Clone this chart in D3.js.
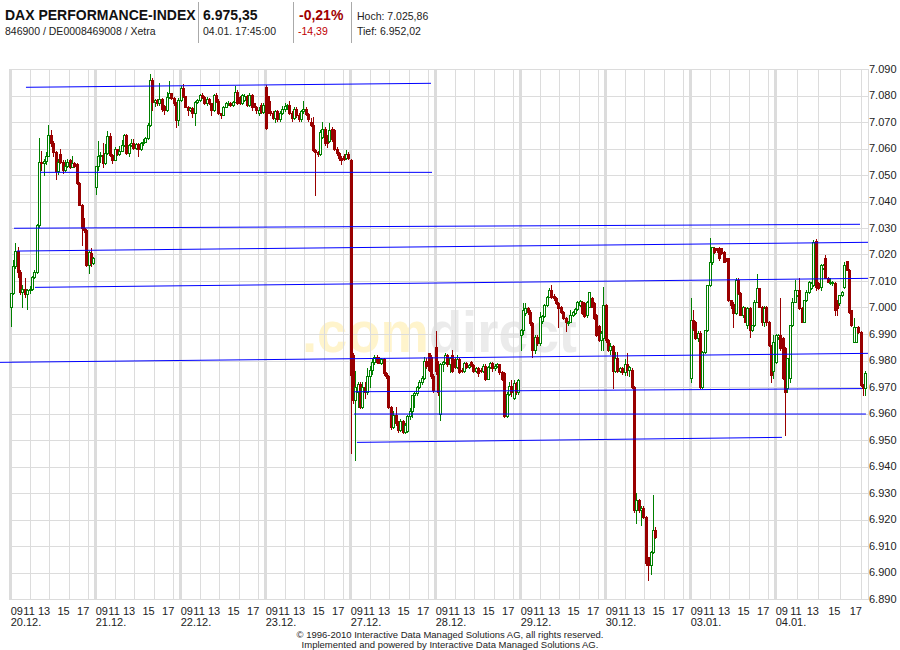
<!DOCTYPE html>
<html><head><meta charset="utf-8">
<script src="https://cdn.jsdelivr.net/npm/d3@7"></script>
<style>
body{margin:0;background:#fff}
svg{display:block}
text{font-family:"Liberation Sans",Arial,sans-serif}
</style>
</head><body>
<svg id="chart" width="900" height="650"></svg>
<script>
// ---------------- DATA ----------------
const titleText = "DAX PERFORMANCE-INDEX";
const isinText = "846900 / DE0008469008 / Xetra";
const lastPrice = "6.975,35";
const lastTime = "04.01. 17:45:00";
const changePct = "-0,21%";
const changeAbs = "-14,39";
const highText = "Hoch: 7.025,86";
const lowText = "Tief: 6.952,02";
const copyright1 = "\u00a9 1996-2010 Interactive Data Managed Solutions AG, all rights reserved.";
const copyright2 = "Implemented and powered by Interactive Data Managed Solutions AG.";

const dayLabels = ["20.12.","21.12.","22.12.","23.12.","27.12.","28.12.","29.12.","30.12.","03.01.","04.01."];
const hourTicks = [9, 11, 13, 15, 17];
const yTickValues = [6890,6900,6910,6920,6930,6940,6950,6960,6970,6980,6990,7000,7010,7020,7030,7040,7050,7060,7070,7080,7090];

// 15-minute candles per day: [open, high, low, close]
const c20 = [
[7000,7005.5,6993,7005.5],[7005.5,7018,7005,7015.5],[7015.5,7024.5,7015,7021.5],[7021.5,7023,7011.5,7013.5],
[7013.5,7014,7005,7006],[7006,7008.5,7000,7007],[7007,7011,7004,7005],[7005,7007,6999.5,7006.5],
[7006.5,7008,7005.5,7007],[7007,7012,7006.5,7011.5],[7011.5,7014,7011,7013.5],[7013.5,7031.5,7013,7031],
[7031,7064,7030.5,7055],[7055,7059,7052,7054.5],[7054.5,7056,7050,7055.2],[7055.2,7058.5,7054,7057.3],
[7057.3,7069,7057,7065],[7065,7067,7061,7062],[7062,7063,7057,7058.5],[7058.5,7059,7048.5,7051.5],
[7051.5,7056,7050.5,7055],[7057.8,7059.7,7054.5,7055],[7055,7055.5,7050.6,7052],[7052,7055.7,7051.5,7053.4],
[7053.4,7056,7053,7055],[7055.7,7056,7052.5,7053.2],[7053.2,7057.2,7053,7054.5],[7054.5,7055,7053,7053.5],
[7054,7054.5,7046.5,7047],[7047,7047.5,7038.5,7038.7],[7038.7,7039,7023.6,7030],[7030,7033.6,7028.5,7029.2],
[7029.2,7029.5,7015.5,7016],[7016,7021.5,7013,7021],[7020.7,7022.5,7015.5,7016.8],[7016.8,7019,7016.5,7018.6]
];
const c21 = [
[7045.3,7053.5,7043,7053.4],[7053.4,7062.8,7052,7057],[7057,7058.5,7055,7057.6],[7057.6,7062,7053,7054.4],
[7054.4,7061.7,7054,7058.4],[7058.4,7066.7,7058,7064.7],[7064.7,7066,7057,7057.5],[7057.5,7058,7054.4,7055.7],
[7055.7,7060.5,7055.5,7059.7],[7059.7,7060,7057.5,7058],[7058,7061,7057.5,7059.2],[7059.2,7063.2,7059,7061.3],
[7061.3,7065.5,7061,7065],[7065,7065.5,7058,7058.2],[7058.2,7061.8,7057.2,7061.3],[7061.3,7063.5,7061,7062.2],
[7062.2,7063.5,7060,7060.1],[7060.1,7062,7059.8,7061.7],[7061.7,7062,7057.2,7059.7],[7059.7,7062.5,7059.5,7062],
[7062,7063.5,7061.5,7062.6],[7062.6,7064.5,7062.5,7063.8],[7063.8,7069.5,7063.5,7068.9],[7068.9,7088,7068.5,7085.8],
[7086,7086.5,7074.5,7077.7],[7077.7,7078.5,7076,7078.3],[7078.3,7078.5,7076.5,7077],[7077,7084.6,7076.5,7078.5],
[7078.5,7079,7074,7074.8],[7076,7076.5,7073,7074.5],[7074.5,7081.4,7074,7079.6],[7079.6,7085.6,7079,7080.8],
[7080.8,7081,7078.5,7079],[7079,7079.5,7076.5,7077],[7077,7077.5,7068,7070.8],[7070.8,7079,7068.9,7078.3]
];
const c22 = [
[7078.3,7083.5,7078,7082.7],[7082.7,7084.3,7079.5,7079.8],[7079.8,7080,7075.5,7075.8],[7075.8,7076,7072.6,7074.6],
[7074.6,7075.5,7074,7075.2],[7075.2,7075.5,7072,7073.3],[7073.3,7077.8,7068.9,7077.7],[7077.7,7078.5,7077,7078.3],
[7078.3,7080.5,7078,7080.2],[7080.2,7081,7079,7079.5],[7079.5,7080,7076.8,7077],[7077,7079.5,7076.5,7078.8],
[7078.8,7079,7076.8,7077],[7077,7077.3,7072.5,7074.5],[7074.5,7080.5,7074,7080.2],[7080.2,7081,7077.5,7078],
[7078,7078.5,7073,7073.3],[7073.3,7073.5,7071.5,7072.6],[7072.6,7076,7072.5,7075.8],[7075.8,7077.5,7075.5,7077],
[7077,7077.8,7076.5,7077.3],[7077.3,7077.5,7076,7076.5],[7076.5,7078,7076,7077.7],[7077.7,7083.6,7077.5,7081.5],
[7081.5,7082,7076.8,7077],[7079.5,7080,7076.8,7077],[7077,7080.5,7076.8,7080.2],[7078.3,7080.5,7078,7080],
[7080,7080.3,7076,7076.4],[7076.4,7081,7076,7080.2],[7080.2,7080.5,7074.5,7075.8],[7077,7077.3,7075.5,7075.8],
[7075.8,7076,7073.5,7074.5],[7073.5,7075.5,7072.5,7074.5],[7076.5,7077,7073.5,7073.9],[7073.9,7077,7073.5,7076.4]
];
const c23 = [
[7083.2,7084,7067.5,7067.6],[7079.7,7080,7073.5,7074],[7074,7077.8,7072.5,7073.3],[7073.3,7074,7071,7071.5],
[7071.5,7074.5,7070,7074],[7074,7074.5,7070.5,7071],[7071,7074,7070.5,7073.5],[7073.5,7076,7073,7075],
[7075,7077,7074,7076],[7076,7076.8,7075,7076.5],[7076.5,7077.8,7073,7073.3],[7073.3,7074,7070.5,7071.5],
[7071.5,7075.5,7071,7075],[7075,7075.5,7072,7072.5],[7072.5,7073.5,7070.5,7071],[7071,7074.5,7070.5,7074],
[7074,7077.8,7073.5,7075],[7075,7075.5,7072.5,7073],[7073,7073.5,7070.5,7071],[7070,7071.5,7068.5,7069],
[7069,7072,7059,7059.5],[7059.5,7060,7042.5,7058.5],[7058.5,7059,7057,7058],[7058,7067,7057.5,7066.3],
[7064.4,7070,7064,7067.5],[7067.5,7068,7061.5,7062],[7064.4,7065,7060.5,7062],[7063,7069.6,7062.5,7067],
[7067.5,7068,7063,7063.5],[7067,7067.5,7059.5,7060],[7060,7060.5,7057.5,7058.3],[7058.3,7058.8,7055.5,7056.6],
[7056.6,7057,7054.3,7055.5],[7057.3,7058,7055.5,7056],[7056.5,7059.4,7056,7058],[7058,7058.5,7056,7056.5]
];
const c27 = [
[7055.7,7056,6945,6974.5],[6982,6983,6964,6965],[6965,6976,6942.5,6970],[6968.3,6972,6962.6,6971.3],
[6971.3,6972,6962,6962.6],[6962.6,6972,6962,6970],[6970,6972,6966,6968],[6968,6977,6967.5,6974],
[6974,6978,6970,6976.5],[6976.5,6980.5,6975,6979.6],[6979.6,6982,6978.5,6981.4],[6981.4,6982,6979,6979.6],
[6980.8,6981.2,6979,6979.2],[6979.2,6981,6978.5,6980.5],[6980.5,6981,6974.5,6975.2],[6975.2,6975.5,6973.5,6974],
[6974,6974.5,6962,6962.6],[6962.6,6963,6954,6955],[6955,6961,6954.5,6959.5],[6959.5,6962.5,6955.5,6956.5],
[6956.5,6957,6953,6953.8],[6953.8,6958,6953.5,6957],[6957,6957.5,6952.5,6953],[6953,6956.5,6952.5,6955.5],
[6953.5,6959.5,6953,6959],[6959,6962,6958,6961],[6961,6967,6958.5,6967],[6967,6968,6962.6,6967.6],
[6967.6,6970.5,6967,6970],[6970,6972.5,6969.5,6972],[6972,6974,6971,6973.5],[6973.5,6981.4,6973,6980],
[6980,6981,6977,6978],[6982.7,6983,6976,6976.4],[6981.4,6982,6973.5,6974],[6974,6975,6968,6969]
];
const c28 = [
[6985,6991,6975,6976],[6978,6980,6967,6968],[6960,6979,6957.5,6978.5],[6978.5,6980,6976,6979.5],
[6979.5,6982.7,6979,6982],[6982,6982.5,6978,6978.5],[6978.5,6981.5,6975.5,6981],[6982,6984,6975.5,6976],
[6980.5,6981,6977,6977.5],[6977.5,6982,6977,6980.5],[6980.5,6981,6975.2,6975.5],[6976.5,6977,6975.5,6976],
[6976,6979.5,6975.5,6979],[6979,6979.5,6977,6977.5],[6977.5,6978.5,6977,6978.2],[6979.5,6980,6978,6978.2],
[6978.2,6978.5,6975.5,6976],[6976,6977.5,6975.5,6977],[6977,6977.5,6974,6975.2],[6976.5,6977,6975.5,6976],
[6976,6978.5,6975.5,6978],[6978,6978.5,6972.5,6973.2],[6973.2,6978,6973,6977.5],[6977.5,6979.5,6977,6979],
[6979,6979.3,6976,6977],[6977,6978.5,6976.5,6978],[6978,6979,6977.5,6978.5],[6978.5,6978.8,6975,6975.5],
[6975.5,6976,6972.5,6973],[6975.2,6975.5,6958.8,6959.1],[6959.1,6968,6958.8,6967.5],[6967.5,6972,6967,6970.5],
[6970.5,6972.5,6966.5,6968],[6966,6972.5,6965.5,6971.5],[6971.5,6972,6967.5,6968],[6968,6973,6967.5,6972.6]
];
const c29 = [
[6989.6,6991.8,6984,6991.5],[6991.5,7001.6,6990,6999.1],[6998,7001.6,6997,6999.7],[6999.7,7000,6997.5,6998.4],
[6998.4,6999,6993.5,6994],[6994,6994.5,6981.5,6984],[6984,6989.5,6983,6989],[6989,6989.5,6986,6986.5],
[6986.5,6998.4,6986,6996.5],[6995,6997,6994,6996.8],[6996.8,7001.2,6996.5,7000.9],[7000.9,7004.5,7000.5,7004.1],
[7004.1,7007.2,7004,7006.6],[7006.6,7008.5,7003.5,7004.1],[7004.5,7005,7003,7003.5],[7003.5,7004,7001.2,7001.6],
[7001.6,7002,6992.8,6999.7],[7000.3,7000.5,6998,6998.4],[6998.4,6998.6,6995.5,6996],[6996,6996.5,6991,6994.6],
[6994,6995,6993.5,6994.6],[6994.6,6999.1,6994.5,6997.2],[6997,6998.5,6996.8,6998.2],[6997.8,6999.8,6997.5,6999.5],
[6999.5,7002.5,6999,7002.2],[7001,7002.8,7000.5,7002.5],[7002.2,7002.5,6997.5,6997.8],[7001.6,7002,6996.5,6996.8],
[6997,7002.5,6996.5,7002.2],[7000.3,7006,7000,7005.9],[7003.5,7004,7000,7000.3],[7001.6,7002,6995.5,6995.9],
[6997.2,6997.5,6989.3,6989.6],[6993,6993.5,6987.4,6987.7],[6987.7,6991,6984,6990.2],[6988.4,7007.9,6984,7000.9]
];
const c30 = [
[7000.9,7001.5,6987,6987.7],[6987.7,6988,6983.5,6984],[6984,6986.5,6982.5,6985.5],[6985.5,6986,6969.5,6976],
[6976,6983.3,6975.5,6980.8],[6980.8,6983.3,6975.5,6976],[6976,6977.5,6975.5,6977],[6977,6977.5,6975,6975.5],
[6975.5,6980.5,6974.5,6978.5],[6978.5,6982.7,6974.5,6976.5],[6976.5,6978,6974,6977.5],[6976.5,6977,6969.5,6970.1],
[6970.1,6970.5,6923,6923.6],[6923.6,6929.9,6918.6,6927.4],[6927.4,6927.8,6923,6923.6],[6923.6,6925,6918,6924.5],
[6924.5,6925,6920.5,6921],[6921,6921.5,6903,6903.5],[6905.9,6906,6897.2,6902.8],[6902.8,6908,6899.5,6907.8],
[6907.8,6929.3,6907.5,6916],[6916,6917,6913,6913.5]
];
const c03 = [
[6973.3,7003.5,6972,6995.3],[6995.3,6999,6991.5,6992.1],[6994.6,6995,6988,6988.4],[6988.4,6991,6987.5,6990.3],
[6990.3,6991,6969.5,6970.1],[6970.1,6983.5,6969.5,6983.3],[6983.3,6991.5,6983,6991.5],[6991.5,7008.5,6991,7008.5],
[7008.5,7026.1,7008,7017.3],[7017.3,7023,7016.5,7022.9],[7022.3,7022.9,7020.5,7021.1],[7022.3,7022.5,7021,7021.7],
[7021.7,7022.9,7018,7018.6],[7022.3,7022.5,7020,7020.4],[7021.1,7021.5,7017,7017.3],[7018.6,7018.6,7017.5,7017.7],
[7018.6,7018.8,7002.5,7002.8],[7002.8,7003,6999.7,7000.9],[7001.5,7002,6992.8,6997.8],[6997.8,7011,6997.5,7010.4],
[7010.4,7011,7005,7005.4],[7005.4,7006,6997,6997.2],[6997.2,7000.5,6996.5,7000],[6999.9,7000,6994.5,6994.7],
[6993.4,7000,6992.1,6999.9],[6999.9,7000,6989,6991.5],[6991.5,6993.5,6991,6993.4],[6993.4,7003,6993,7002.2],
[7002.2,7012.5,7002,7007.2],[7007.2,7007.5,7000,7000.3],[7000.3,7000.5,6993.5,6994.6],[6994.6,7000.5,6993,6999.9],
[7000.3,7000.5,6993.5,6994.6],[6994.6,6995,6985.5,6985.8],[6985.8,6986,6972,6974.5],[6976,6989.6,6973.5,6987.1]
];
const c04 = [
[6979.6,6990,6979,6989.6],[6989,6990,6988,6989.6],[6989.6,7003.5,6984,6984.6],[6988.4,6989,6973,6973.3],
[6984.6,6985,6952,6968.2],[6969.5,6980.8,6968,6980.8],[6973.3,6993.4,6972,6993.4],[6993.4,7003.5,6993,7002.2],
[7002.2,7010.4,7002,7006.6],[7004.7,7006.6,7004.5,7006.6],[7006.6,7011,6999.5,6999.7],[6999.7,7000,6994.5,6994.7],
[6994.7,7003,6994.5,7002.8],[7002.8,7006.5,7002.5,7006],[7006,7010,7005.5,7009.8],[7007.2,7009.5,7007,7009.1],
[7008.5,7025.5,7008,7024.8],[7025.1,7025.9,7006.5,7007.9],[7009.1,7009.5,7007,7007.2],[7007.9,7016.5,7006.5,7016],
[7014.8,7016.5,7014.5,7016],[7018.6,7019.8,7011,7011],[7011,7011.5,7009.5,7009.8],[7009.1,7011,7009,7009.8],
[7009.1,7010,7008.5,7009.8],[7009.1,7009.5,6997.2,6999],[7002.8,7003,6997.2,6999.7],[7001.6,7004.8,7001,7004.7],
[7004.7,7006.2,7004.5,7006],[7007.9,7017.3,7007.5,7016],[7017.5,7017.5,7014,7014.1],[7014.1,7014.5,6998,6998.4],
[6999,6999.2,6993,6993.4],[6987.1,6995.9,6986.8,6992.8],[6987.1,6992.8,6987,6992.8],[6992.8,6993,6990.5,6990.9],
[6990.9,6991,6970.5,6970.8],[6970.8,6971,6967,6969.5],[6969.5,6976,6967,6975.35]
];
const dayCandles = [c20, c21, c22, c23, c27, c28, c29, c30, c03, c04];

// trend lines: [start day position, start value, end day position, end value]
const trendLines = [
  [0.188, 7083.1, 4.953, 7084.6],
  [0.353, 7051.0, 4.965, 7051.0],
  [0.047, 7029.9, 9.914, 7031.4],
  [0.082, 7021.3, 10.0, 7024.6],
  [0.294, 7007.6, 10.0, 7011.0],
  [-0.118, 6979.3, 10.0, 6982.7],
  [4.047, 6968.2, 9.935, 6969.4],
  [4.047, 6959.8, 9.978, 6959.8],
  [4.082, 6949.1, 9.075, 6951.0]
];

// ---------------- CHART ----------------
const svg = d3.select("#chart");
const gridColor = "#dcdcdc";
const upColor = "#008000", downColor = "#990000", lineBlue = "#0000ff";

const y = d3.scaleLinear().domain([6890, 7090]).range([599, 69]);
const xDay = d3.scaleLinear().domain(d3.range(0, 11)).range([10,95,180,265,350,435,520,605,690,775,868]);
const slot = d3.scaleLinear().domain([0, 36]).range([0, 85]);
const hourScale = d => d3.scaleLinear().domain([9, 17]).range([xDay(d), xDay(d) + (d === 9 ? 86 : 78.3)]);
const deLocale = d3.formatLocale({decimal: ",", thousands: ".", grouping: [3], currency: ["", "€"]});
const fmtY = deLocale.format(",.0f");
const plotTop = y(7090), plotBottom = y(6890), plotLeft = xDay(0), plotRight = xDay(10);

// watermark
const wm = svg.append("text").attr("x", 302).attr("y", 352)
  .attr("font-size", 57).attr("font-weight", "bold")
  .attr("textLength", 275).attr("lengthAdjust", "spacingAndGlyphs");
wm.append("tspan").attr("fill", "#fff4cc").text(".com");
wm.append("tspan").attr("fill", "#ebebeb").text("direct");

// horizontal grid
svg.append("g").selectAll("line").data(yTickValues).join("line")
  .attr("x1", plotLeft).attr("x2", plotRight)
  .attr("y1", d => Math.round(y(d)) + 0.5).attr("y2", d => Math.round(y(d)) + 0.5)
  .attr("stroke", gridColor);

// hour grid lines
const hourG = svg.append("g");
dayLabels.forEach((lab, d) => {
  const hs = hourScale(d);
  hourTicks.filter(h => h > 9).forEach(h => {
    const xx = Math.round(hs(h)) + 0.5;
    hourG.append("line").attr("x1", xx).attr("x2", xx).attr("y1", plotTop).attr("y2", plotBottom + 1).attr("stroke", gridColor);
  });
});
// day separators
svg.append("g").selectAll("rect").data(d3.range(0, 10)).join("rect")
  .attr("x", d => Math.round(xDay(d)) - 1).attr("width", 3)
  .attr("y", plotTop).attr("height", plotBottom - plotTop + 1).attr("fill", gridColor);
svg.append("line").attr("x1", Math.round(plotRight) + 0.5).attr("x2", Math.round(plotRight) + 0.5)
  .attr("y1", plotTop).attr("y2", plotBottom + 1).attr("stroke", gridColor);

// candles
const cg = svg.append("g");
dayCandles.forEach((arr, d) => {
  arr.forEach((c, i) => {
    const [o, h, l, cl] = c;
    const cx = Math.floor(xDay(d) + slot(i + 0.5));
    const isUp = cl >= o;
    const col = isUp ? upColor : downColor;
    const yTop = Math.round(y(Math.max(o, cl)));
    const yBot = Math.round(y(Math.min(o, cl)));
    cg.append("line").attr("x1", cx + 0.5).attr("x2", cx + 0.5)
      .attr("y1", Math.round(y(h))).attr("y2", Math.round(y(l)) + 1).attr("stroke", col);
    if (isUp) {
      cg.append("rect").attr("x", cx - 0.5).attr("y", yTop + 0.5)
        .attr("width", 2).attr("height", Math.max(1, yBot - yTop))
        .attr("fill", "#fff").attr("stroke", col);
    } else {
      cg.append("rect").attr("x", cx - 1).attr("y", yTop)
        .attr("width", 3).attr("height", Math.max(1, yBot - yTop + 1))
        .attr("fill", col);
    }
  });
});

// trend lines
svg.append("g").selectAll("line").data(trendLines).join("line")
  .attr("x1", d => xDay(d[0])).attr("y1", d => y(d[1]))
  .attr("x2", d => xDay(d[2])).attr("y2", d => y(d[3]))
  .attr("stroke", lineBlue).attr("stroke-width", 1);

// y axis labels
svg.append("g").selectAll("text").data(yTickValues).join("text")
  .attr("x", plotRight + 1).attr("y", d => y(d)).attr("dy", "0.35em")
  .attr("font-size", 11).attr("fill", "#222").text(d => fmtY(d));

// x axis labels
const xg = svg.append("g").attr("font-size", 11).attr("fill", "#222");
dayLabels.forEach((lab, d) => {
  const hs = hourScale(d);
  hourTicks.forEach(h => {
    const t = xg.append("text").attr("y", 615).text(String(h).padStart(2, "0"));
    if (h === 9) t.attr("x", hs(h) + 0.7).attr("text-anchor", "start");
    else if (h === 11) t.attr("x", hs(h) - 0.5).attr("text-anchor", "middle");
    else t.attr("x", hs(h) + 1).attr("text-anchor", "end");
  });
  xg.append("text").attr("x", xDay(d) + 0.7).attr("y", 626).text(lab);
});

// footer
svg.append("text").attr("x", 450).attr("y", 638).attr("text-anchor", "middle")
  .attr("font-size", 9.5).attr("fill", "#222").text(copyright1);
svg.append("text").attr("x", 450).attr("y", 648).attr("text-anchor", "middle")
  .attr("font-size", 9.5).attr("fill", "#222").text(copyright2);

// header
const hg = svg.append("g");
hg.append("text").attr("x", 5).attr("y", 20).attr("font-size", 14).attr("font-weight", "bold").attr("fill", "#111").text(titleText);
hg.append("text").attr("x", 5).attr("y", 35).attr("font-size", 10.5).attr("fill", "#222").text(isinText);
hg.append("text").attr("x", 203).attr("y", 20).attr("font-size", 14).attr("font-weight", "bold").attr("fill", "#111").text(lastPrice);
hg.append("text").attr("x", 203).attr("y", 35).attr("font-size", 10.5).attr("fill", "#222").text(lastTime);
hg.append("text").attr("x", 299).attr("y", 20).attr("font-size", 14).attr("font-weight", "bold").attr("fill", "#a00000").text(changePct);
hg.append("text").attr("x", 298).attr("y", 35).attr("font-size", 10.5).attr("fill", "#c00000").text(changeAbs);
hg.append("text").attr("x", 357).attr("y", 20).attr("font-size", 10.5).attr("fill", "#222").text(highText);
hg.append("text").attr("x", 357).attr("y", 35).attr("font-size", 10.5).attr("fill", "#222").text(lowText);
[198, 293, 351].forEach(sx => {
  hg.append("line").attr("x1", sx + 0.5).attr("x2", sx + 0.5).attr("y1", 2).attr("y2", 43).attr("stroke", "#aaa");
});
</script>
</body></html>
